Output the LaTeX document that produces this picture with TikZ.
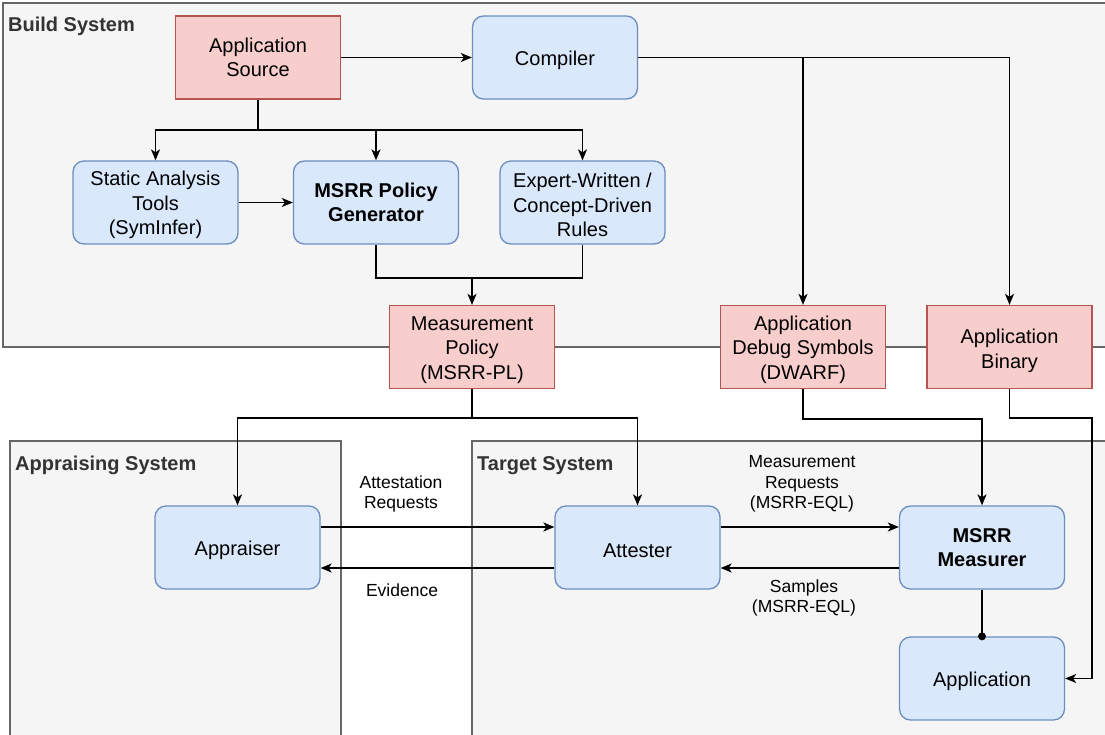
\documentclass[tikz,border=0pt]{standalone}
\usepackage{fontspec}
\setmainfont{Liberation Sans}
\usetikzlibrary{arrows.meta}
\definecolor{redfill}{HTML}{F8CECC}
\definecolor{reddraw}{HTML}{B85450}
\definecolor{bluefill}{HTML}{DAE8FC}
\definecolor{bluedraw}{HTML}{6C8EBF}
\definecolor{contfill}{HTML}{F5F5F5}
\definecolor{contdraw}{HTML}{666666}
\definecolor{conttext}{HTML}{333333}
\newcommand\toplift{\rule{0pt}{20pt}}
\newcommand\toplifttwo{\rule{0pt}{22pt}}
\tikzset{
  boxtext/.style={inner sep=0pt, align=center, font=\fontsize{20}{24.5}\selectfont},
  redbox/.style={boxtext, draw=reddraw, fill=redfill, line width=1.3pt, minimum width=165pt, minimum height=83pt},
  bluebox/.style={boxtext, draw=bluedraw, fill=bluefill, line width=1.3pt, rounded corners=11pt, minimum width=165pt, minimum height=83pt},
  container/.style={draw=contdraw, fill=contfill, line width=1.2pt},
  conttitle/.style={anchor=west, inner sep=0pt, text=conttext, font=\fontsize{20}{24}\selectfont\bfseries},
  edgelabel/.style={align=center, inner sep=0pt, font=\fontsize{17.5}{20.5}\selectfont},
  conn/.style={line width=1.4pt, draw=black},
  arr/.style={conn, -{Stealth[length=11pt,width=9pt,inset=3pt]}},
}
\begin{document}
\begin{tikzpicture}[x=1pt,y=-1pt]
\useasboundingbox (0,0) rectangle (1105,734);
\fill[white] (0,0) rectangle (1105,734);
% containers
\draw[container] (3,3) rectangle (1110,347);
\draw[container] (10,441) rectangle (341,740);
\draw[container] (472,441) rectangle (1110,740);
\node[conttitle] (tbuild) at (8,26.5) {Build System};
\node[conttitle] (tappr) at (15,465.5) {Appraising System};
\node[conttitle] (ttarget) at (477,465.5) {Target System};
% nodes
\node[redbox] (src) at (258,57.5) {Application\\Source};
\node[bluebox] (comp) at (555,57.5) {\toplift Compiler};
\node[bluebox] (sat) at (155.5,202.5) {\toplift Static Analysis\\Tools\\(SymInfer)};
\node[bluebox, font=\fontsize{20}{24.5}\selectfont\bfseries] (gen) at (376,202.5) {MSRR Policy\\Generator};
\node[bluebox] (exp) at (582.5,202.5) {\toplift Expert-Written /\\Concept-Driven\\Rules};
\node[redbox] (mp) at (472,347) {\toplift Measurement\\Policy\\(MSRR-PL)};
\node[redbox] (dbg) at (803,347) {\toplift Application\\Debug Symbols\\(DWARF)};
\node[redbox] (bin) at (1009.5,347) {\toplifttwo Application\\Binary};
\node[bluebox] (appr) at (237.5,547.5) {\toplift Appraiser};
\node[bluebox] (att) at (637.5,547.5) {\toplift Attester};
\node[bluebox, font=\fontsize{20}{24.5}\selectfont\bfseries] (meas) at (982,547.5) {MSRR\\Measurer};
\node[bluebox] (appl) at (982,678.5) {\toplift Application};
% junction coordinates
\coordinate (j1) at (258,130);
\coordinate (j2) at (472,278);
\coordinate (j3) at (803,57.5);
\coordinate (j4) at (472,418);
\coordinate (j5) at (1092,418);
% build connectors
\draw[arr] (src.east) -- (comp.west);
\draw[conn] (src.south) -- (j1);
\draw[arr] (j1) -| (sat.north);
\draw[arr] (j1) -| (gen.north);
\draw[arr] (j1) -| (exp.north);
\draw[arr] (sat.east) -- (gen.west);
\draw[conn] (gen.south) |- (j2);
\draw[conn] (exp.south) |- (j2);
\draw[arr] (j2) -- (mp.north);
\draw[conn] (comp.east) -- (j3);
\draw[arr] (j3) -- (dbg.north);
\draw[arr] (j3) -| (bin.north);
% policy distribution
\draw[conn] (mp.south) -- (j4);
\draw[arr] (j4) -| (appr.north);
\draw[arr] (j4) -| (att.north);
\draw[arr] (dbg.south) -- ++(0,30) -| (meas.north);
\draw[arr] (bin.south) |- (j5) |- (appl.east);
% attestation flows
\draw[arr] ([yshift=20.5pt]appr.east) -- ([yshift=20.5pt]att.west);
\draw[arr] ([yshift=-20.5pt]att.west) -- ([yshift=-20.5pt]appr.east);
\draw[arr] ([yshift=20.5pt]att.east) -- ([yshift=20.5pt]meas.west);
\draw[arr] ([yshift=-20.5pt]meas.west) -- ([yshift=-20.5pt]att.east);
\draw[conn] (meas.south) -- (appl.north);
\fill (appl.north) circle (4pt);
% labels
\node[edgelabel] (lreq) at (401,494) {Attestation\\Requests};
\node[edgelabel] (lev) at (402,590) {Evidence};
\node[edgelabel] (lmreq) at (802,484) {Measurement\\Requests\\(MSRR-EQL)};
\node[edgelabel] (lsamp) at (804,598) {Samples\\(MSRR-EQL)};
\end{tikzpicture}
\end{document}
